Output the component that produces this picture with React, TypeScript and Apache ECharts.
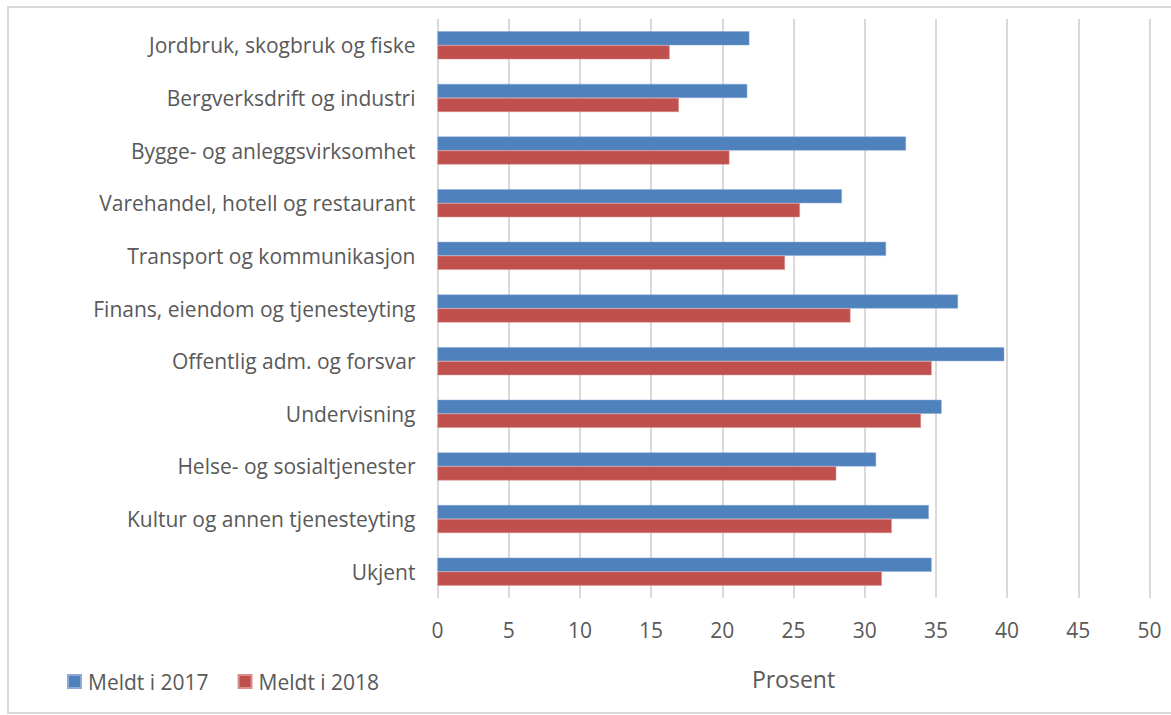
import React, { useEffect, useRef } from "react";
import * as echarts from "echarts";

const categories = [
  "Jordbruk, skogbruk og fiske",
  "Bergverksdrift og industri",
  "Bygge- og anleggsvirksomhet",
  "Varehandel, hotell og restaurant",
  "Transport og kommunikasjon",
  "Finans, eiendom og tjenesteyting",
  "Offentlig adm. og forsvar",
  "Undervisning",
  "Helse- og sosialtjenester",
  "Kultur og annen tjenesteyting",
  "Ukjent",
];
const meldt2017 = [21.9, 21.75, 32.9, 28.4, 31.5, 36.55, 39.8, 35.4, 30.8, 34.5, 34.7];
const meldt2018 = [16.3, 16.95, 20.5, 25.45, 24.4, 29.0, 34.7, 33.95, 28.0, 31.9, 31.2];
const seriesNames = ["Meldt i 2017", "Meldt i 2018"];
const axisName = "Prosent";

const FONT = "'Open Sans', Lato, sans-serif";
const TEXT = "#595959";

export default function App() {
  const ref = useRef<HTMLDivElement>(null);
  useEffect(() => {
    document.body.style.margin = "0";
    const chart = echarts.init(ref.current!, null, { renderer: "svg" });
    chart.setOption({
      animation: false,
      backgroundColor: "#ffffff",
      textStyle: { fontFamily: FONT },
      grid: { left: 437.5, right: 21.5, top: 19, bottom: 117, containLabel: false },
      legend: {
        left: 62,
        top: 666,
        itemWidth: 13,
        itemHeight: 13,
        itemGap: 29,
        icon: "rect",
        textStyle: { fontFamily: FONT, fontSize: 21, color: TEXT, padding: [0, 0, 0, 2] },
        data: seriesNames,
      },
      xAxis: {
        type: "value",
        min: 0,
        max: 50,
        interval: 5,
        name: axisName,
        nameLocation: "middle",
        nameGap: 69,
        nameTextStyle: { fontFamily: FONT, fontSize: 23, color: TEXT },
        axisLine: { show: false },
        axisTick: { show: false },
        axisLabel: { fontFamily: FONT, fontSize: 21, color: TEXT, margin: 21.5 },
        splitLine: { show: true, lineStyle: { color: "#d9d9d9", width: 2 } },
      },
      yAxis: {
        type: "category",
        inverse: true,
        data: categories,
        axisLine: { show: false },
        axisTick: { show: false },
        axisLabel: { fontFamily: FONT, fontSize: 21, color: TEXT, margin: 22 },
        splitLine: { show: false },
      },
      series: [
        {
          name: seriesNames[0],
          type: "bar",
          data: meldt2017,
          barWidth: 14,
          barGap: "0%",
          itemStyle: { color: "#4F81BD", borderColor: "#8DA9D6", borderWidth: 0.5 },
        },
        {
          name: seriesNames[1],
          type: "bar",
          data: meldt2018,
          barWidth: 14,
          barGap: "0%",
          itemStyle: { color: "#C0504D", borderColor: "#D9908E", borderWidth: 0.5 },
        },
      ],
      graphic: [
        {
          type: "rect",
          shape: { x: 8, y: 7, width: 1170, height: 706 },
          style: { fill: "none", stroke: "#d9d9d9", lineWidth: 2 },
          silent: true,
          z: -1,
        },
      ],
    });
    return () => chart.dispose();
  }, []);
  return <div ref={ref} style={{ width: 1171, height: 715 }} />;
}
